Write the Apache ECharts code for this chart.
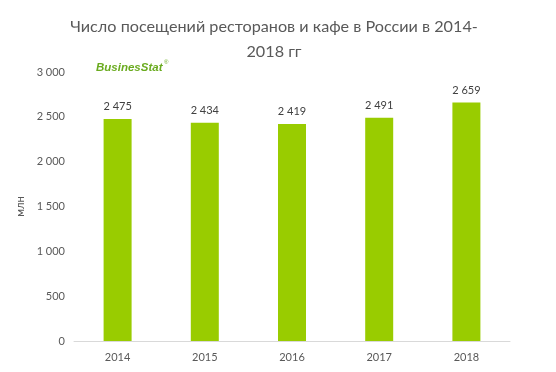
<!DOCTYPE html>
<html><head><meta charset="utf-8">
<script src="https://cdn.jsdelivr.net/npm/echarts@6/dist/echarts.min.js"></script>
<style>html,body{margin:0;padding:0;background:#fff}#c{width:556px;height:372px}</style>
</head><body><div id="c"></div>
<script>
const categories = ['2014','2015','2016','2017','2018'];
const values = [2475, 2434, 2419, 2491, 2659];
const yTicks = [0, 500, 1000, 1500, 2000, 2500, 3000];
const titleText = 'Число посещений ресторанов и кафе в России в 2014-\n2018 гг';
const unitLabel = 'млн';
const fmt = v => String(v).replace(/\B(?=(\d{3})+(?!\d))/g, ' ');
const chart = echarts.init(document.getElementById('c'));
chart.setOption({
  animation: false,
  title: {
    text: titleText, left: 269, textAlign: 'center', top: 9,
    textStyle: { fontFamily: 'Lato', fontSize: 16.2, fontWeight: 'normal', color: '#595959', lineHeight: 25 }
  },
  graphic: [{
    type: 'text', left: 96, top: 62,
    style: { text: 'BusinesStat', fill: '#6aab1f', font: 'italic bold 11.5px "Liberation Sans"' }
  },{
    type: 'text', left: 164, top: 59,
    style: { text: '®', fill: '#6aab1f', font: '6px "Liberation Sans"' }
  }],
  grid: { left: 74, right: 46, top: 72, bottom: 31 },
  xAxis: {
    type: 'category', data: categories,
    axisLine: { lineStyle: { color: '#d9d9d9' } },
    axisTick: { show: false },
    axisLabel: { color: '#595959', fontFamily: 'Lato', fontSize: 11, margin: 11 }
  },
  yAxis: {
    type: 'value', min: yTicks[0], max: yTicks[yTicks.length-1], interval: 500,
    name: unitLabel, nameLocation: 'middle', nameGap: 44, nameRotate: 90,
    nameTextStyle: { color: '#595959', fontFamily: 'Lato', fontSize: 11 },
    splitLine: { show: false },
    axisLine: { show: false }, axisTick: { show: false },
    axisLabel: { color: '#595959', fontFamily: 'Lato', fontSize: 11, margin: 9, formatter: fmt }
  },
  series: [{
    type: 'bar', data: values, barWidth: 28,
    itemStyle: { color: '#99cc00' },
    label: { show: true, position: 'top', distance: 7, color: '#404040', fontFamily: 'Lato', fontSize: 11, formatter: p => fmt(p.value) }
  }]
});
</script></body></html>
